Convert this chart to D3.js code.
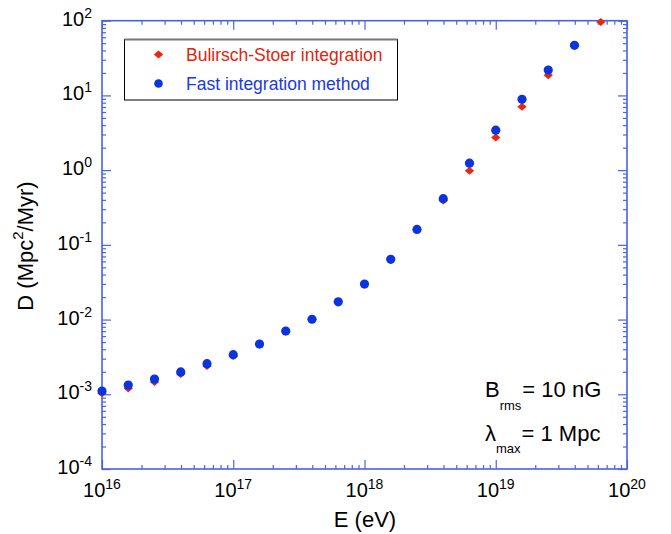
<!DOCTYPE html>
<html><head><meta charset="utf-8">
<script src="https://cdn.jsdelivr.net/npm/d3@7"></script>
<style>
html,body{margin:0;padding:0;background:#fff;}
svg text{font-family:"Liberation Sans",Arial,Helvetica,sans-serif;}
</style></head>
<body><svg id="c" width="671" height="534"></svg>
<script>
// ---- data ----
const energiesBS = [1e16,1.585e16,2.512e16,3.981e16,6.31e16,1e17,1.585e17,2.512e17,3.981e17,6.31e17,1e18,1.585e18,2.512e18,3.981e18,6.31e18,1e19,1.585e19,2.512e19,3.981e19,6.31e19];
const bulirschStoer = [1.03e-3,1.20e-3,1.46e-3,1.87e-3,2.39e-3,3.26e-3,4.6e-3,6.9e-3,1.02e-2,1.74e-2,3.0e-2,6.5e-2,0.161,0.393,0.98,2.73,7.06,18.6,45.5,96];
const energiesFast = [1e16,1.585e16,2.512e16,3.981e16,6.31e16,1e17,1.585e17,2.512e17,3.981e17,6.31e17,1e18,1.585e18,2.512e18,3.981e18,6.31e18,1e19,1.585e19,2.512e19,3.981e19];
const fastMethod = [1.107e-3,1.33e-3,1.60e-3,1.99e-3,2.57e-3,3.39e-3,4.71e-3,7.03e-3,1.01e-2,1.73e-2,2.99e-2,6.41e-2,0.161,0.415,1.24,3.43,8.87,21.9,46.9];
const xTickExps = ["16","17","18","19","20"];
const yTickExps = ["-4","-3","-2","-1","0","1","2"];
const legendLabels = ["Bulirsch-Stoer integration","Fast integration method"];

// ---- layout ----
const L=102, R=627, T=20.7, B=469;
const axisColor="#4a62e6", red="#e8280e", blue="#0a33e2";
const svg=d3.select("#c");
const x=d3.scaleLog().domain([1e16,1e20]).range([L,R]);
const y=d3.scaleLog().domain([1e-4,1e2]).range([B,T]);

function logTicks(lo,hi){const maj=[],min=[];for(let e=lo;e<=hi;e++){maj.push(Math.pow(10,e));if(e<hi)for(let m=2;m<=9;m++)min.push(m*Math.pow(10,e));}return {maj,min};}
const xt=logTicks(16,20), yt=logTicks(-4,2);

const g=svg.append("g");
function drawAxis(axisGen, transform, vals, size){
  g.append("g").attr("transform",transform)
   .call(axisGen.tickValues(vals).tickSize(size).tickFormat(""))
   .call(s=>{s.select(".domain").remove();s.selectAll("line").attr("stroke",axisColor).attr("stroke-width",1.2);});
}
drawAxis(d3.axisTop(x),`translate(0,${B})`,xt.maj,9);
drawAxis(d3.axisTop(x),`translate(0,${B})`,xt.min,4);
drawAxis(d3.axisBottom(x),`translate(0,${T})`,xt.maj,9);
drawAxis(d3.axisBottom(x),`translate(0,${T})`,xt.min,4);
drawAxis(d3.axisRight(y),`translate(${L},0)`,yt.maj,9);
drawAxis(d3.axisRight(y),`translate(${L},0)`,yt.min,4);
drawAxis(d3.axisLeft(y),`translate(${R},0)`,yt.maj,9);
drawAxis(d3.axisLeft(y),`translate(${R},0)`,yt.min,4);
g.append("rect").attr("x",L).attr("y",T).attr("width",R-L).attr("height",B-T)
 .attr("fill","none").attr("stroke",axisColor).attr("stroke-width",1.6);

// tick labels
xTickExps.forEach(e=>{
  const t=svg.append("text").attr("x",x(Math.pow(10,+e))).attr("y",497).attr("text-anchor","middle").attr("font-size",20).attr("fill","#000");
  t.append("tspan").text("10");
  t.append("tspan").attr("font-size",14).attr("dy",-8).text(e);
});
yTickExps.forEach(e=>{
  const t=svg.append("text").attr("x",92).attr("y",y(Math.pow(10,+e))+5).attr("text-anchor","end").attr("font-size",20).attr("fill","#000");
  t.append("tspan").text("10");
  t.append("tspan").attr("font-size",14).attr("dy",-8).text(e);
});

// axis titles
svg.append("text").attr("x",365).attr("y",527).attr("text-anchor","middle").attr("font-size",22).text("E (eV)");
const yt2=svg.append("text").attr("transform","translate(33,246) rotate(-90)").attr("text-anchor","middle").attr("font-size",22);
yt2.append("tspan").text("D (Mpc");
yt2.append("tspan").attr("font-size",15).attr("dy",-10).text("2");
yt2.append("tspan").attr("dy",10).text("/Myr)");

// data
const diamond=d3.symbol().type(d3.symbolSquare).size(36);
svg.append("g").selectAll("path").data(energiesBS.map((e,i)=>[e,bulirschStoer[i]])).join("path")
 .attr("d",diamond).attr("transform",d=>`translate(${x(d[0])},${y(d[1])}) scale(1.1,0.95) rotate(45)`).attr("fill",red);
svg.append("g").selectAll("circle").data(energiesFast.map((e,i)=>[e,fastMethod[i]])).join("circle")
 .attr("cx",d=>x(d[0])).attr("cy",d=>y(d[1])).attr("r",4.6).attr("fill",blue);

// legend
const lg=svg.append("g");
lg.append("rect").attr("x",124.5).attr("y",39.5).attr("width",273).attr("height",60.5).attr("fill","#fff").attr("stroke","#000").attr("stroke-width",1);
lg.append("line").attr("x1",124.5).attr("x2",397.5).attr("y1",39.5).attr("y2",39.5).attr("stroke","#777").attr("stroke-width",2);
lg.append("path").attr("d",diamond).attr("transform","translate(158.5,54.5) scale(1.1,0.95) rotate(45)").attr("fill",red);
lg.append("circle").attr("cx",158.5).attr("cy",83.5).attr("r",4.3).attr("fill",blue);
lg.append("text").attr("x",186).attr("y",61).attr("font-size",17.5).attr("fill","#e0250f").text(legendLabels[0]);
lg.append("text").attr("x",186).attr("y",90).attr("font-size",17.5).attr("fill","#1a3ae0").text(legendLabels[1]);

// annotation
const a1=svg.append("text").attr("x",485).attr("y",397).attr("font-size",22);
a1.append("tspan").text("B");
a1.append("tspan").attr("font-size",13).attr("dy",13).text("rms");
a1.append("tspan").attr("dy",-13).attr("dx",1).text("= 10 nG");
const a2=svg.append("text").attr("x",485).attr("y",441).attr("font-size",22);
a2.append("tspan").text("λ");
a2.append("tspan").attr("font-size",13).attr("dy",12).text("max");
a2.append("tspan").attr("dy",-12).attr("dx",1).text("= 1 Mpc");
</script></body></html>
